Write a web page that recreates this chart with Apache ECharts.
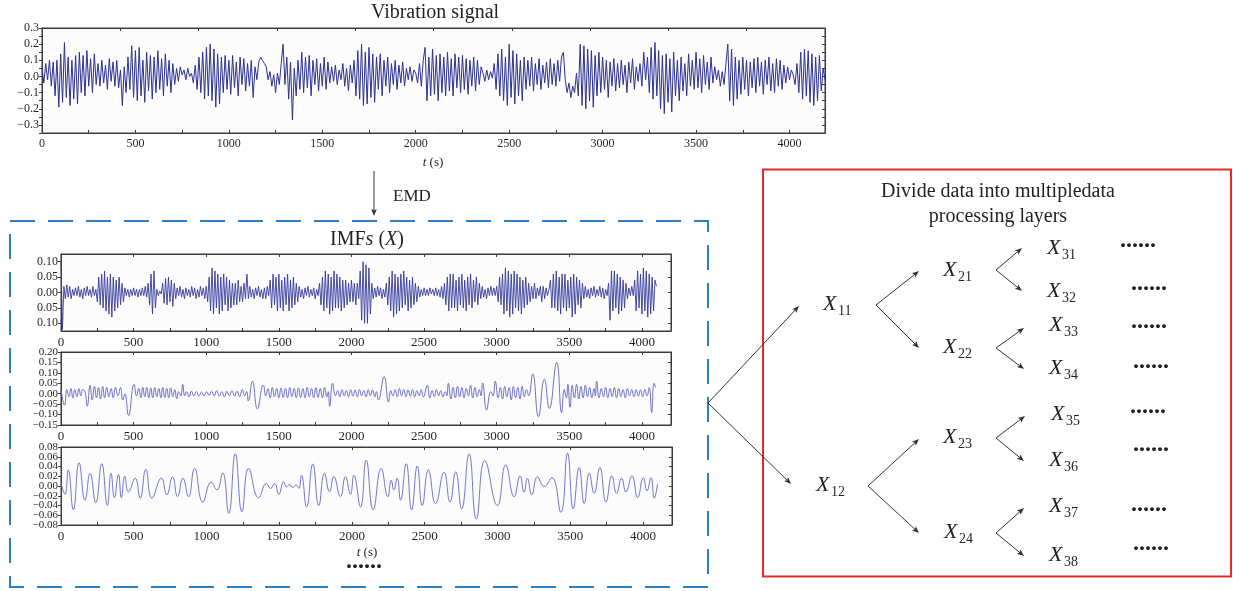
<!DOCTYPE html>
<html><head><meta charset="utf-8">
<script src="https://cdn.jsdelivr.net/npm/echarts@6/dist/echarts.min.js"></script>
<style>html,body{margin:0;padding:0;background:#fff}#c{width:1233px;height:591px}</style>
</head><body><div id="c"></div>
<script>
// ---------------- DATA ----------------
const vibStep = 10; // seconds between samples
const vibration = [
.05,-.04,.08,-.02,.1,-.06,.09,-.12,.1,-.19,
.14,-.16,.21,-.13,.12,-.18,.1,-.14,.13,-.17,
.15,-.1,.13,-.12,.16,-.06,.11,-.1,.14,-.05,
.08,-.06,.1,-.04,.07,-.08,.11,-.03,.09,-.06,
.1,-.07,.04,-.18,.06,-.1,.12,-.08,.19,-.13,
.16,-.15,.18,-.12,.1,-.16,.15,-.09,.13,-.14,
.12,-.1,.16,-.08,.11,-.12,.14,-.06,.1,-.1,
.08,-.05,.05,-.03,.06,.01,.04,-.02,.05,0,
.02,-.04,.07,-.08,.12,-.1,.15,-.14,.18,-.12,
.2,-.15,.17,-.19,.14,-.17,.12,-.1,.13,-.08,
.1,-.11,.13,-.07,.09,-.12,.12,-.05,.11,-.09,
.08,-.06,.1,-.13,.06,-.02,.09,.12,.1,.08,
.06,-.02,.03,-.06,.01,-.1,.02,-.05,.08,.2,
-.05,.12,-.14,.09,-.27,.05,-.12,.1,-.08,.15,
-.1,.12,-.07,.13,-.12,.1,-.05,.11,-.09,.08,
-.06,.12,-.08,.09,-.04,.06,-.03,.07,-.05,.04,
-.02,.08,-.06,.05,-.09,.07,-.04,.1,-.12,.16,
-.14,.2,-.18,.15,-.17,.18,-.13,.14,-.16,.12,
-.08,.14,-.12,.1,-.06,.12,-.1,.08,-.05,.1,
-.08,.07,-.04,.09,-.06,.05,-.02,.06,-.03,.04,
.02,-.04,.08,-.06,.1,.18,-.15,.12,-.12,.17,
-.11,.13,-.15,.14,-.1,.12,-.12,.15,-.09,.11,
-.12,.14,-.07,.12,-.1,.13,-.08,.11,-.11,.1,
-.06,.12,-.09,.1,-.05,.06,.02,-.03,.04,-.02,
.03,-.01,.08,-.08,.14,-.12,.17,-.15,.12,-.18,
.2,-.13,.16,-.17,.14,-.12,.1,-.15,.12,-.08,
.1,-.06,.12,-.09,.08,-.05,.11,-.08,.07,-.04,
.09,-.07,.11,-.05,.08,-.06,.1,-.03,.12,.15,
-.02,-.1,-.04,-.13,-.06,-.1,.02,-.12,.2,-.18,
.19,-.2,.17,-.15,.16,-.19,.13,-.12,.15,-.1,
.12,-.08,.1,-.13,.09,-.06,.11,-.09,.08,-.07,
.1,-.05,.07,-.1,.09,-.04,.11,-.08,.06,-.03,
.08,-.06,.15,-.02,.12,-.1,.18,-.14,.21,-.12,
.16,-.2,.13,-.23,.14,-.16,.11,-.22,.15,-.12,
.1,-.15,.12,-.09,.08,-.12,.14,-.06,.1,-.08,
.15,-.07,.11,-.1,.13,-.05,.09,-.08,.12,-.04,
.06,-.02,.04,-.06,.03,-.05,.08,.2,-.15,.17,
-.18,.12,-.14,.1,-.11,.12,-.08,.1,-.12,.09,
-.07,.11,-.1,.12,-.06,.09,-.11,.1,-.05,.12,
-.09,.08,-.1,.11,-.06,.1,-.08,.07,-.04,.06,
-.02,.04,.01,-.05,.08,-.1,.15,-.14,.17,-.12,
.16,-.16,.14,-.18,.12,-.15,.13,-.09,.05,-.02
];

const imf1Step = 10;
const imf1 = [
.1,-.12,.02,-.02,.025,-.015,.02,-.02,.01,-.01,
.015,-.01,.02,-.015,.01,-.02,.015,-.01,.02,-.01,
.01,-.015,.02,-.01,.01,-.03,.05,-.04,.06,-.05,
.07,-.06,.05,-.07,.06,-.08,.05,-.06,.04,-.05,
.05,-.04,.03,-.03,.015,-.01,.01,-.015,.01,-.01,
.015,-.01,.01,-.015,.01,-.01,.015,-.01,.02,-.015,
.03,-.04,.06,-.07,.07,-.05,.01,-.01,.005,-.005,
.03,-.035,.045,-.04,.05,-.03,.04,-.045,.03,-.02,
.015,-.01,.02,-.015,.01,-.02,.015,-.01,.01,-.015,
.02,-.01,.015,-.02,.01,-.015,.02,-.01,.015,-.02,
.02,-.03,.05,-.06,.08,-.07,.07,-.05,.06,-.07,
.05,-.06,.06,-.04,.05,-.06,.04,-.05,.03,-.04,
.03,-.04,.04,-.03,.02,-.03,.03,-.02,.06,-.02,
.02,-.015,.01,-.02,.015,-.01,.02,-.015,.01,-.02,
.015,-.02,.02,-.01,.04,-.05,.06,-.04,.05,-.06,
.06,-.05,.04,-.06,.05,-.04,.06,-.06,.04,-.05,
.05,-.04,.03,-.03,.02,-.015,.01,-.02,.015,-.01,
.02,-.015,.01,-.01,.015,-.02,.01,-.01,.03,-.04,
.05,-.06,.07,-.05,.06,-.07,.05,-.06,.07,-.05,
.06,-.05,.05,-.06,.04,-.05,.04,-.04,.03,-.03,
.04,-.03,.03,-.04,.03,-.02,.07,-.09,.1,-.1,
.09,-.1,.08,-.07,.03,-.02,.015,-.015,.02,-.01,
.015,-.02,.01,-.015,.03,-.04,.05,-.06,.07,-.08,
.06,-.07,.05,-.06,.06,-.05,.07,-.04,.05,-.06,
.04,-.05,.05,-.04,.03,-.03,.02,-.015,.01,-.01,
.015,-.01,.01,-.01,.015,-.005,.01,-.01,.015,-.01,
.01,-.015,.02,-.02,.03,-.04,.05,-.06,.06,-.05,
.06,-.05,.04,-.06,.05,-.04,.06,-.05,.04,-.06,
.05,-.04,.06,-.05,.04,-.03,.05,-.04,.03,-.02,
.02,-.015,.01,-.02,.015,-.01,.02,-.01,.015,-.01,
.02,-.03,.05,-.04,.06,-.07,.08,-.06,.07,-.08,
.06,-.07,.07,-.05,.06,-.06,.05,-.07,.04,-.05,
.05,-.04,.03,-.03,.02,-.02,.03,-.02,.015,-.01,
.02,-.03,.02,-.02,.015,-.01,.01,.04,-.05,.06,
-.05,.07,-.06,.05,-.07,.06,-.05,.06,-.06,.04,
-.05,.05,-.08,.06,-.07,.05,-.04,.04,-.05,.03,
-.02,.02,-.015,.01,-.02,.015,-.01,.02,-.015,.01,
-.01,.02,-.015,.015,-.02,.01,-.01,.03,-.09,.07,
-.06,.07,-.05,.06,-.07,.05,-.06,.04,-.05,.03,
-.02,.015,-.01,.02,-.01,.04,-.06,.07,-.05,.06,
-.07,.08,-.06,.07,-.08,.06,-.07,.05,-.06,.04,
.02
];

// IMF2 extrema: [t, value]
const imf2Points = [
[0,.02],[25,-.055],[40,.02],[55,-.015],[68,.025],[82,-.02],[95,.02],[110,-.015],[123,.025],[137,-.01],[150,.02],[165,.01],[181,-.06],
[200,.04],[215,-.03],[230,.035],[245,-.02],[258,.03],[272,-.025],[287,.035],[300,-.02],[315,.03],[330,-.015],[345,.025],[360,-.02],[375,.03],[392,-.01],[410,.03],[425,-.03],[440,0],
[465,-.105],[503,.045],[520,-.01],[535,.025],[550,-.02],[563,.03],[577,-.015],[590,.03],[605,-.02],[618,.028],[632,-.02],[645,.03],[660,-.015],[673,.025],[688,-.02],[700,.03],[715,-.018],[728,.025],[742,-.02],[755,.028],[770,-.015],[783,.02],[797,-.025],[810,.01],[825,-.01],[838,.045],[852,-.01],
[865,.01],[882,-.015],[898,.012],[915,-.01],[932,.01],[950,-.012],[967,.008],[985,-.01],[1002,.01],[1020,-.008],[1037,.012],[1055,-.01],[1072,.015],[1090,-.012],[1107,.01],[1125,-.015],[1142,.012],[1160,-.01],[1177,.015],[1195,-.012],[1212,.012],[1230,-.015],[1248,.02],[1265,-.01],[1278,.01],[1290,-.035],[1318,.06],[1352,-.072],[1393,.042],
[1410,-.01],[1425,.025],[1440,-.02],[1455,.03],[1470,-.015],[1485,.025],[1500,-.02],[1515,.028],[1530,-.018],[1545,.025],[1560,-.02],[1575,.03],[1590,-.015],[1605,.025],[1620,-.02],[1635,.028],[1650,-.018],[1665,.025],[1680,-.02],[1695,.03],[1710,-.015],[1725,.025],[1740,-.02],[1755,.03],[1770,-.018],[1785,.025],[1800,-.02],[1815,.03],[1830,-.015],[1840,.01],[1850,-.06],[1870,.05],[1890,-.01],
[1905,.015],[1920,-.015],[1935,.02],[1950,-.01],[1965,.015],[1980,-.015],[1995,.02],[2010,-.012],[2025,.018],[2040,-.015],[2055,.02],[2070,-.01],[2085,.015],[2100,-.015],[2115,.02],[2130,-.01],[2145,.018],[2160,-.015],[2172,.01],[2185,-.03],[2225,.082],[2255,-.04],
[2270,.015],[2285,-.01],[2300,.02],[2315,-.015],[2330,.025],[2345,-.01],[2360,.02],[2375,-.015],[2390,.018],[2405,-.012],[2420,.02],[2435,-.015],[2450,.015],[2465,-.01],[2480,.02],[2495,-.015],[2522,.04],[2540,-.02],[2555,.015],[2570,-.015],[2585,.02],[2600,-.01],[2615,.015],[2630,-.015],[2645,.01],[2656,-.01],[2667,.05],[2685,-.025],[2700,.03],[2715,-.02],[2730,.035],[2745,-.015],[2760,.03],[2775,-.02],[2790,.025],[2805,-.01],[2820,.04],[2835,-.02],[2850,.03],[2865,-.015],[2880,.02],[2892,-.01],[2903,.052],[2930,-.078],[2960,.01],[2975,-.01],[2990,.06],
[3010,-.02],[3025,.03],[3040,-.025],[3055,.035],[3070,-.015],[3085,.03],[3100,-.03],[3115,.035],[3130,-.02],[3145,.03],[3160,-.025],[3175,.035],[3190,-.015],[3205,.02],[3220,-.01],[3248,.095],[3287,-.11],[3328,.07],[3362,-.07],[3413,.15],[3447,-.09],[3465,.02],[3480,-.02],[3490,.045],[3505,-.065],[3520,.04],[3535,-.02],[3550,.045],[3565,-.025],[3580,.035],[3595,-.02],[3610,.04],[3625,-.015],[3640,.03],[3655,-.02],[3670,.025],[3679,-.01],[3688,.06],[3705,-.02],
[3720,.025],[3735,-.015],[3750,.03],[3765,-.02],[3780,.025],[3795,-.015],[3810,.03],[3825,-.02],[3840,.025],[3855,-.015],[3870,.02],[3885,-.02],[3900,.025],[3915,-.01],[3930,.02],[3945,-.015],[3960,.02],[3975,-.012],[3990,.018],[4005,-.015],[4020,.02],[4035,-.01],[4050,.03],[4067,-.09],[4083,.05],[4095,.03]
];

// IMF3 extrema: [t, value]
const imf3Points = [
[0,.005],[27,-.017],[50,.033],[85,-.049],[124,.048],[165,-.029],[200,.026],[239,-.034],[280,.046],[319,-.04],[344,.026],[367,-.024],[395,.024],[415,-.024],[438,.02],[464,-.012],[510,.016],[544,-.025],[583,.034],[625,-.025],[690,.016],[727,-.018],[767,.019],[801,-.022],[838,.016],[877,-.022],[918,.036],[975,-.033],[1033,.008],[1072,-.008],[1111,.027],[1153,-.056],[1198,.066],[1244,-.053],[1290,.036],[1359,-.024],[1412,.005],[1440,-.005],[1469,.005],[1497,-.017],[1531,.009],[1550,-.002],[1570,.003],[1593,-.003],[1616,.002],[1635,-.005],[1653,.022],[1688,-.043],[1731,.045],[1772,-.04],[1811,.026],[1846,-.012],[1875,.019],[1921,-.022],[1955,.019],[1990,-.017],[2013,.022],[2059,-.043],[2098,.053],[2146,-.049],[2201,.036],[2247,-.022],[2270,.012],[2288,-.008],[2311,.016],[2334,-.029],[2373,.046],[2410,-.049],[2449,.041],[2483,-.04],[2525,.033],[2575,-.036],[2633,.028],[2674,-.033],[2713,.029],[2754,-.047],[2805,.066],[2855,-.068],[2913,.052],[3000,-.04],[3057,.043],[3115,-.022],[3156,.021],[3183,-.013],[3206,.016],[3236,-.018],[3275,.019],[3321,-.001],[3374,.017],[3436,-.054],[3482,.067],[3521,-.047],[3562,.038],[3597,-.036],[3631,.026],[3665,-.015],[3704,.038],[3746,-.033],[3787,.021],[3819,-.015],[3854,.016],[3883,-.012],[3925,.021],[3964,-.024],[4003,.017],[4028,-.01],[4056,.017],[4078,-.025],[4101,.005]
];

const topXLabels = [0,500,1000,1500,2000,2500,3000,3500,4000];
const topXTicks = [0,250,500,750,1000,1250,1500,1750,2000,2250,2500,2750,3000,3250,3500,3750,4000];
const topXTopTicks = [419,838,1257,1676,2095,2514,2933,3352,3771];
const topYLabels = [-0.3,-0.2,-0.1,0,0.1,0.2,0.3];
const topYTicks = [-0.35,-0.3,-0.25,-0.2,-0.15,-0.1,-0.05,0,0.05,0.1,0.15,0.2,0.25,0.3];
const imfXLabels = [0,500,1000,1500,2000,2500,3000,3500,4000];
const imfXTicks = [0,250,500,750,1000,1250,1500,1750,2000,2250,2500,2750,3000,3250,3500,3750,4000];
const imf1YLabels = [-0.1,-0.05,0,0.05,0.1];
const imf2YLabels = [-0.15,-0.1,-0.05,0,0.05,0.1,0.15,0.2];
const imf3YLabels = [-0.08,-0.06,-0.04,-0.02,0,0.02,0.04,0.06,0.08];
const tree = [ // subscript, X left, X centre y
 ['11',823,304.5],['12',816,485],
 ['21',943,270.5],['22',943,347.5],['23',943,437],['24',944,532],
 ['31',1047,248.5],['32',1047,291],['33',1049,325.5],['34',1049,368.5],['35',1051,414.5],['36',1049,460.5],['37',1049,506.5],['38',1049,555]
];

// ---------------- CHART ----------------
const FF = '"Liberation Serif","DejaVu Serif",serif';
const TXT = '#231f20';
const AX = '#3a3a3a';
const chart = echarts.init(document.getElementById('c'), null, {renderer:'canvas'});

const grids = [
 {left:42, top:28, width:783, height:105},
 {left:61, top:254, width:610, height:77},
 {left:61, top:352, width:610, height:73},
 {left:61, top:447, width:611, height:78}
].map(g => Object.assign({show:true, borderColor:AX, borderWidth:1, backgroundColor:'#fcfcfc', containLabel:false, outerBoundsMode:'none'}, g));

const cfgs = [
 {xmax:4190, xl:topXLabels, xt:topXTicks, xtt:topXTopTicks, ymin:-0.35, ymax:0.3, yl:topYLabels, yt:topYTicks,
  fmt:v => (v<0?'\u2212':'') + Math.abs(v).toFixed(1), yfs:12, xfs:12},
 {xmax:4200, xl:imfXLabels, xt:imfXTicks, xtt:imfXLabels, ymin:-0.125, ymax:0.125, yl:imf1YLabels, yt:imf1YLabels,
  fmt:v => Math.abs(v).toFixed(2), yfs:12, xfs:13},
 {xmax:4200, xl:imfXLabels, xt:imfXTicks, xtt:imfXLabels, ymin:-0.15, ymax:0.2, yl:imf2YLabels, yt:imf2YLabels,
  fmt:v => (v<0?'\u2212':'') + Math.abs(v).toFixed(2), yfs:11, xfs:13},
 {xmax:4200, xl:imfXLabels, xt:imfXTicks, xtt:imfXLabels, ymin:-0.08, ymax:0.08, yl:imf3YLabels, yt:imf3YLabels,
  fmt:v => (v<0?'\u2212':'') + Math.abs(v).toFixed(2), yfs:11, xfs:13}
];

const xAxes = [], yAxes = [];
cfgs.forEach((c, gi) => {
  const line = {show:true, onZero:false, lineStyle:{color:AX, width:1}};
  xAxes.push({gridIndex:gi, type:'value', min:0, max:c.xmax, position:'bottom',
    axisLine:line, splitLine:{show:false},
    axisTick:{show:true, inside:true, length:3, customValues:c.xt, lineStyle:{color:AX}},
    axisLabel:{customValues:c.xl, formatter:v => String(Math.round(v)), fontFamily:FF, fontSize:c.xfs, color:TXT, margin:5,
      showMinLabel:true, showMaxLabel:true, hideOverlap:false}});
  xAxes.push({gridIndex:gi, type:'value', min:0, max:c.xmax, position:'top',
    axisLine:line, splitLine:{show:false},
    axisTick:{show:true, inside:true, length:3, customValues:c.xtt, lineStyle:{color:AX}},
    axisLabel:{show:false}});
  // labels split over two co-located left axes so that tightly stacked labels are never dropped
  const lblA = c.yl.filter((v,i) => i % 2 === 0), lblB = c.yl.filter((v,i) => i % 2 === 1);
  const lblStyle = {formatter:c.fmt, fontFamily:FF, fontSize:c.yfs, color:TXT, margin:3, showMinLabel:true, showMaxLabel:true, hideOverlap:false};
  yAxes.push({gridIndex:gi, type:'value', min:c.ymin, max:c.ymax, position:'left',
    axisLine:line, splitLine:{show:false},
    axisTick:{show:true, inside:false, length:3, customValues:c.yt, lineStyle:{color:AX}},
    axisLabel:Object.assign({customValues:lblA}, lblStyle)});
  yAxes.push({gridIndex:gi, type:'value', min:c.ymin, max:c.ymax, position:'right',
    axisLine:line, splitLine:{show:false},
    axisTick:{show:true, inside:true, length:3, customValues:c.yt, lineStyle:{color:AX}},
    axisLabel:{show:false}});
  yAxes.push({gridIndex:gi, type:'value', min:c.ymin, max:c.ymax, position:'left', offset:0,
    axisLine:{show:false, onZero:false}, splitLine:{show:false}, axisTick:{show:false},
    axisLabel:Object.assign({customValues:lblB}, lblStyle)});
});

const series = [
 {data: vibration.map((v,i) => [i*vibStep, v]), color:'#2c3193', w:1, smooth:false},
 {data: imf1.map((v,i) => [i*imf1Step, v]), color:'#34399c', w:0.9, smooth:false},
 {data: imf2Points, color:'#5c61c2', w:0.9, smooth:0.5},
 {data: imf3Points, color:'#6166c6', w:0.9, smooth:0.5}
].map((s, gi) => ({type:'line', xAxisIndex:2*gi, yAxisIndex:3*gi, data:s.data, symbol:'none',
  smooth:s.smooth, lineStyle:{color:s.color, width:s.w}, animation:false, silent:true}));

// ---------------- DIAGRAM ----------------
const G = [];
function txt(x, y, text, size, extra) {
  G.push({type:'text', x, y, z:10, style:Object.assign({text, fontFamily:FF, fontSize:size, fill:TXT, align:'center', verticalAlign:'middle'}, extra||{})});
}
function arrow(x1, y1, x2, y2, col) {
  col = col || '#333';
  const a = Math.atan2(y2-y1, x2-x1), L = 7, W = 2.8;
  const bx = x2 - L*Math.cos(a), by = y2 - L*Math.sin(a);
  const px = -Math.sin(a)*W, py = Math.cos(a)*W;
  G.push({type:'line', z:5, shape:{x1, y1, x2:bx+Math.cos(a)*2, y2:by+Math.sin(a)*2}, style:{stroke:col, lineWidth:1}});
  G.push({type:'polygon', z:5, shape:{points:[[x2,y2],[bx+px,by+py],[bx+1.5*Math.cos(a),by+1.5*Math.sin(a)],[bx-px,by-py]]}, style:{fill:col}});
}
function fork(x, y, t1, t2) { arrow(x, y, t1[0], t1[1]); arrow(x, y, t2[0], t2[1]); }

// titles
txt(435, 13, 'Vibration signal', 20);
txt(433, 163, '{i|t} (s)', 13, {rich:{i:{fontStyle:'italic', fontFamily:FF, fontSize:13, fill:TXT}}});
// EMD arrow
arrow(374, 171, 374, 216);
txt(412, 197, 'EMD', 17);
// dashed IMF box
G.push({type:'rect', z:1, shape:{x:10, y:221, width:698, height:366}, style:{fill:'none', stroke:'#2a7ec2', lineWidth:2, lineDash:[25,13]}});
txt(367, 240, 'IMF{i|s} ({i|X})', 20, {rich:{i:{fontStyle:'italic', fontFamily:FF, fontSize:20, fill:TXT}}});
txt(367, 553, '{i|t} (s)', 13, {rich:{i:{fontStyle:'italic', fontFamily:FF, fontSize:13, fill:TXT}}});
txt(364, 562, '......', 24, {fontWeight:'bold'});
// red box
G.push({type:'rect', z:1, shape:{x:763, y:169.5, width:468, height:407}, style:{fill:'none', stroke:'#e42a2a', lineWidth:2}});
txt(998, 192, 'Divide data into multipledata', 20);
txt(998, 217, 'processing layers', 20);
// tree arrows
fork(708, 403, [799, 306], [791, 484]);
fork(876, 305, [919, 271], [919, 348]);
fork(868, 486, [919, 439], [919, 533]);
fork(996, 270, [1022, 248], [1022, 291]);
fork(996, 348, [1024, 328], [1024, 369]);
fork(996, 438, [1025, 416], [1024, 461]);
fork(996, 533, [1024, 508], [1024, 556]);
// tree labels
tree.forEach(([sub, x, y]) => {
  G.push({type:'text', x, y, z:10, style:{text:'X', fontFamily:FF, fontStyle:'italic', fontSize:22, fill:TXT, align:'left', verticalAlign:'middle'}});
  G.push({type:'text', x:x+15, y:y+7, z:10, style:{text:sub, fontFamily:FF, fontSize:14, fill:TXT, align:'left', verticalAlign:'middle'}});
});
// continuation dots
[[1138,245],[1149,288],[1149,326],[1151,366],[1148,411],[1151,449],[1149,509],[1151,548]].forEach(([x,y]) => txt(x, y-4, '......', 24, {fontWeight:'bold'}));

chart.setOption({
  animation:false,
  grid:grids, xAxis:xAxes, yAxis:yAxes, series,
  graphic:{elements:G}
});
</script></body></html>
